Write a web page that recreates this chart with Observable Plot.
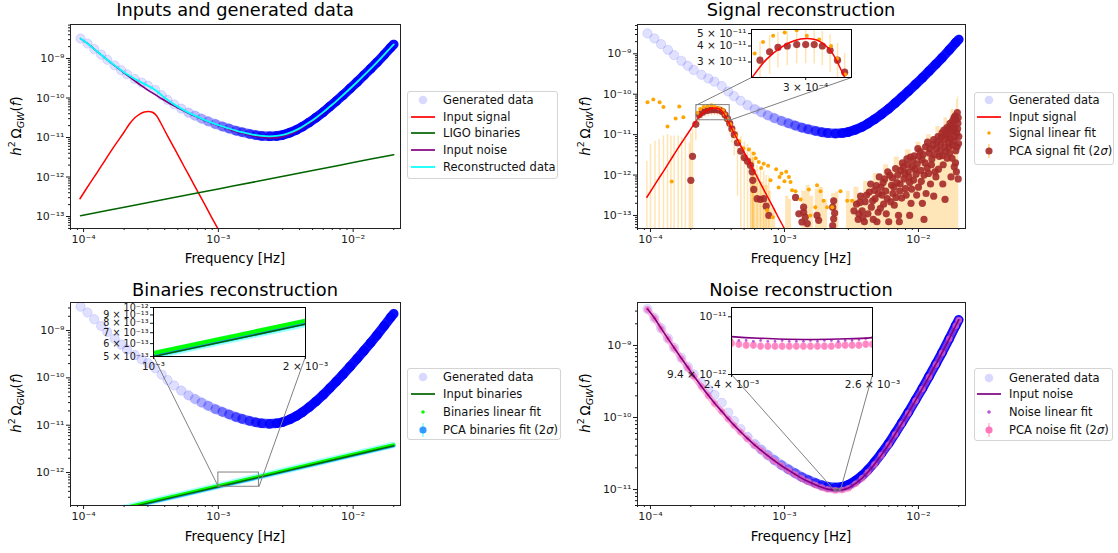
<!DOCTYPE html>
<html>
<head>
<meta charset="utf-8">
<script src="https://cdn.jsdelivr.net/npm/d3@7"></script>
<script src="https://cdn.jsdelivr.net/npm/@observablehq/plot@0.6"></script>
<style>
html,body{margin:0;padding:0;background:#fff;}
#root{position:relative;width:1118px;height:553px;overflow:hidden;font-family:"DejaVu Sans",sans-serif;color:#000;}
.t{position:absolute;white-space:nowrap;line-height:normal;}
.title{font-size:17.8px;transform:translateX(-50%);}
.xlab{font-size:13.3px;transform:translateX(-50%);}
.ylab{font-size:13.3px;transform:translate(-50%,-50%) rotate(-90deg);}
.ylab sup,.ylab sub{font-size:0.72em;line-height:0;}
.legend{position:absolute;border:1px solid #d4d4d4;border-radius:3px;background:rgba(255,255,255,0.8);box-sizing:border-box;}
.row{position:absolute;display:flex;align-items:center;height:16px;font-size:11.5px;white-space:nowrap;color:#111;}
.row svg{margin-right:8px;flex:none;}
</style>
</head>
<body>
<div id="root"></div>
<script>
// ---------------- data ----------------
const freq = [9.5e-5,1.07e-4,1.2e-4,1.35e-4,1.5e-4,1.7e-4,1.9e-4,2.1e-4,2.4e-4,2.7e-4,3.0e-4,3.4e-4,3.8e-4,4.2e-4,4.7e-4,5.3e-4,6.0e-4,6.7e-4,7.5e-4,8.4e-4,9.5e-4,1.07e-3,1.2e-3,1.35e-3,1.5e-3,1.7e-3,1.9e-3,2.1e-3,2.4e-3,2.7e-3,3.0e-3,3.4e-3,3.8e-3,4.2e-3,4.7e-3,5.3e-3,6.0e-3,6.7e-3,7.5e-3,8.4e-3,9.5e-3,1.07e-2,1.2e-2,1.35e-2,1.5e-2,1.7e-2,1.9e-2,2.0e-2];
const generated = [3.2e-9,2.40e-9,1.73e-9,1.25e-9,9.3e-10,6.70e-10,5.05e-10,3.97e-10,3.03e-10,2.45e-10,2.05e-10,1.60e-10,1.17e-10,8.96e-11,6.90e-11,5.39e-11,4.27e-11,3.58e-11,3.01e-11,2.57e-11,2.19e-11,1.91e-11,1.69e-11,1.49e-11,1.36e-11,1.235e-11,1.15e-11,1.094e-11,1.069e-11,1.094e-11,1.16e-11,1.33e-11,1.56e-11,1.88e-11,2.39e-11,3.18e-11,4.38e-11,6.03e-11,8.37e-11,1.18e-10,1.74e-10,2.54e-10,3.72e-10,5.53e-10,7.94e-10,1.25e-9,1.90e-9,2.27e-9];
const noiseFreq = [9.5e-5,1.07e-4,1.2e-4,1.35e-4,1.5e-4,1.7e-4,1.9e-4,2.1e-4,2.4e-4,2.7e-4,3.0e-4,3.4e-4,3.8e-4,4.2e-4,4.7e-4,5.3e-4,6.0e-4,6.7e-4,7.5e-4,8.4e-4,9.5e-4,1.07e-3,1.2e-3,1.35e-3,1.5e-3,1.7e-3,1.9e-3,2.1e-3,2.4e-3,2.45e-3,2.5e-3,2.55e-3,2.6e-3,2.7e-3,3.0e-3,3.4e-3,3.8e-3,4.2e-3,4.7e-3,5.3e-3,6.0e-3,6.7e-3,7.5e-3,8.4e-3,9.5e-3,1.07e-2,1.2e-2,1.35e-2,1.5e-2,1.7e-2,1.9e-2,2.0e-2];
const inputNoise = [3.2e-9,2.40e-9,1.73e-9,1.245e-9,9.28e-10,6.64e-10,4.94e-10,3.79e-10,2.71e-10,2.03e-10,1.59e-10,1.22e-10,9.6e-11,7.83e-11,6.33e-11,5.10e-11,4.13e-11,3.50e-11,2.96e-11,2.52e-11,2.14e-11,1.86e-11,1.63e-11,1.43e-11,1.294e-11,1.163e-11,1.072e-11,1.012e-11,9.79e-12,9.77e-12,9.76e-12,9.765e-12,9.78e-12,9.90e-12,1.05e-11,1.217e-11,1.441e-11,1.751e-11,2.25e-11,3.03e-11,4.22e-11,5.86e-11,8.19e-11,1.159e-10,1.72e-10,2.52e-10,3.69e-10,5.50e-10,7.91e-10,1.248e-9,1.893e-9,2.27e-9];
const noisePca = [3.17e-9,2.38e-9,1.71e-9,1.23e-9,9.2e-10,6.57e-10,4.89e-10,3.75e-10,2.68e-10,2.01e-10,1.57e-10,1.21e-10,9.5e-11,7.75e-11,6.27e-11,5.05e-11,4.09e-11,3.47e-11,2.93e-11,2.49e-11,2.12e-11,1.84e-11,1.61e-11,1.42e-11,1.28e-11,1.152e-11,1.062e-11,1.003e-11,9.72e-12,9.82e-12,1.04e-11,1.205e-11,1.427e-11,1.734e-11,2.23e-11,3.0e-11,4.18e-11,5.8e-11,8.1e-11,1.147e-10,1.70e-10,2.49e-10,3.65e-10,5.45e-10,7.83e-10,1.235e-9,1.874e-9,2.25e-9];
const noiseLinear = [3.22e-9,2.41e-9,1.74e-9,1.25e-9,9.3e-10,6.66e-10,4.96e-10,3.8e-10,2.72e-10,2.04e-10,1.6e-10,1.225e-10,9.65e-11,7.85e-11,6.35e-11,5.12e-11,4.14e-11,3.51e-11,2.97e-11,2.53e-11,2.15e-11,1.87e-11,1.64e-11,1.44e-11,1.30e-11,1.168e-11,1.077e-11,1.017e-11,9.84e-12,9.95e-12,1.056e-11,1.222e-11,1.446e-11,1.756e-11,2.26e-11,3.04e-11,4.23e-11,5.88e-11,8.22e-11,1.162e-10,1.725e-10,2.53e-10,3.70e-10,5.52e-10,7.93e-10,1.25e-9,1.90e-9,2.28e-9];
const zoomNoiseFreq = [2.40e-3,2.41e-3,2.42e-3,2.43e-3,2.44e-3,2.45e-3,2.46e-3,2.47e-3,2.48e-3,2.49e-3,2.50e-3,2.51e-3,2.52e-3,2.53e-3,2.54e-3,2.55e-3,2.56e-3,2.57e-3,2.58e-3,2.59e-3,2.60e-3];
const zoomNoisePca = [9.72e-12,9.71e-12,9.70e-12,9.70e-12,9.69e-12,9.69e-12,9.69e-12,9.69e-12,9.69e-12,9.69e-12,9.69e-12,9.69e-12,9.69e-12,9.69e-12,9.69e-12,9.70e-12,9.70e-12,9.70e-12,9.70e-12,9.71e-12,9.71e-12];
const zoomNoiseLinear = [9.76e-12,9.75e-12,9.75e-12,9.74e-12,9.75e-12,9.74e-12,9.74e-12,9.75e-12,9.74e-12,9.74e-12,9.74e-12,9.75e-12,9.74e-12,9.75e-12,9.75e-12,9.74e-12,9.75e-12,9.75e-12,9.76e-12,9.77e-12,9.78e-12];
const zoomNoiseErr = 4.5e-14;
const signalFreq = [9.4e-5,1.12e-4,1.26e-4,1.41e-4,1.58e-4,1.78e-4,2.0e-4,2.19e-4,2.40e-4,2.63e-4,2.82e-4,3.02e-4,3.24e-4,3.47e-4,3.72e-4,3.98e-4,4.47e-4,5.01e-4,5.62e-4,6.31e-4,7.08e-4,7.94e-4,8.91e-4,1.0e-3,1.12e-3];
const inputSignal = [2.82e-13,7.08e-13,1.29e-12,2.34e-12,4.27e-12,7.76e-12,1.38e-11,2.19e-11,3.16e-11,3.98e-11,4.42e-11,4.57e-11,4.37e-11,3.63e-11,2.40e-11,1.55e-11,7.41e-12,3.63e-12,1.74e-12,8.51e-13,4.07e-13,2.00e-13,9.55e-14,4.68e-14,2.24e-14];
const sigLinFreq = [9.5e-5,1.05e-4,1.17e-4,1.25e-4,1.34e-4,1.44e-4,1.54e-4,1.64e-4,1.76e-4,2.24e-4,2.35e-4,2.49e-4,2.66e-4,2.85e-4,3.02e-4,3.24e-4,3.47e-4,3.59e-4,3.76e-4,3.94e-4,4.11e-4,4.33e-4,4.59e-4,4.94e-4,5.42e-4,5.9e-4,6.1e-4,6.43e-4,6.7e-4,7.0e-4,7.43e-4,7.55e-4,7.87e-4,8.18e-4,8.67e-4,9.05e-4,9.18e-4,9.5e-4,1.0e-3,1.03e-3,1.08e-3,1.11e-3,1.14e-3,1.21e-3,1.32e-3,1.52e-3,1.56e-3,1.70e-3,1.75e-3,1.86e-3,1.96e-3,2.08e-3,2.27e-3,2.62e-3,2.94e-3,3.2e-3];
const sigLinear = [6.3e-11,7.4e-11,6.3e-11,4.8e-11,1.6e-11,6.9e-13,2.5e-11,5.0e-11,2.7e-11,3.5e-11,4.3e-11,4.8e-11,5.1e-11,5.3e-11,4.8e-11,4.5e-11,4.0e-11,3.2e-11,2.4e-11,1.8e-11,1.3e-11,9.3e-12,6.9e-12,4.6e-12,4.3e-12,3.4e-12,2.6e-12,2.1e-12,1.5e-12,1.9e-12,1.35e-13,1.7e-12,7.4e-13,9.1e-14,1.4e-12,4.9e-13,8.9e-13,1.1e-12,7.0e-13,1.2e-12,8.9e-13,6.7e-13,4.2e-13,4.0e-13,2.5e-13,4.4e-13,1.0e-13,1.6e-13,5.6e-13,4.0e-13,2.3e-13,1.6e-13,1.6e-13,4.0e-13,2.3e-13,2.3e-13];
const sigPeakFreq = [2.00e-4,2.06e-4,2.18e-4,2.31e-4,2.44e-4,2.56e-4,2.70e-4,2.85e-4,3.00e-4,3.15e-4,3.30e-4,3.45e-4,3.60e-4,3.75e-4,3.90e-4,4.05e-4,4.22e-4,4.46e-4,4.72e-4,5.01e-4,5.30e-4,5.57e-4,5.74e-4,5.80e-4,5.90e-4,6.25e-4,6.62e-4,7.00e-4,7.30e-4,7.64e-4];
const sigPeak = [7.4e-13,2.9e-12,1.8e-11,3.1e-11,3.6e-11,3.9e-11,4.0e-11,4.1e-11,4.1e-11,4.1e-11,4.0e-11,3.7e-11,3.1e-11,2.5e-11,1.9e-11,1.4e-11,1.0e-11,6.3e-12,3.9e-12,2.7e-12,2.2e-12,1.74e-12,1.2e-12,7.4e-13,4.4e-13,2.6e-13,2.5e-13,2.6e-13,1.7e-13,1.0e-13];
const sigPeakErr = [1.0e-11,1.0e-11,1.1e-11,1.2e-11,1.2e-11,1.2e-11,1.2e-11,1.2e-11,1.2e-11,1.2e-11,1.2e-11,1.2e-11,1.1e-11,1.0e-11,9e-12,8e-12,7e-12,6e-12,5e-12,4e-12,3.5e-12,3e-12,2.5e-12,2e-12,1.8e-12,1.5e-12,1.2e-12,1.0e-12,8e-13,8e-13];
const sigCloudFreq = [1.21e-3,1.28e-3,1.35e-3,1.39e-3,1.39e-3,1.43e-3,1.48e-3,1.75e-3,1.80e-3,2.29e-3,2.29e-3,2.33e-3,2.33e-3,2.37e-3,3.45e-3,3.55e-3,3.59e-3,3.7e-3,3.8e-3,3.95e-3,4.0e-3,4.3e-3,4.45e-3,4.6e-3,4.75e-3,4.85e-3,4.9e-3,5.0e-3,5.1e-3,5.25e-3,5.35e-3,5.5e-3,5.6e-3,5.75e-3,5.85e-3,6.0e-3,6.1e-3,6.3e-3,6.45e-3,6.6e-3,6.75e-3,6.9e-3,7.1e-3,7.2e-3,7.25e-3,7.4e-3,7.6e-3,7.8e-3,8.0e-3,8.2e-3,8.4e-3,8.6e-3,8.6e-3,8.8e-3,9.0e-3,9.3e-3,9.6e-3,9.8e-3,1.0e-2,1.03e-2,1.06e-2,1.07e-2,1.1e-2,1.1e-2,1.13e-2,1.16e-2,1.2e-2,1.23e-2,1.26e-2,1.3e-2,1.3e-2,1.33e-2,1.36e-2,1.4e-2,1.43e-2,1.46e-2,1.5e-2,1.52e-2,1.53e-2,1.56e-2,1.58e-2,1.6e-2,1.63e-2,1.66e-2,1.7e-2,1.72e-2,1.75e-2,1.75e-2,1.78e-2,1.8e-2,1.83e-2,1.85e-2,1.86e-2,1.88e-2,1.9e-2,1.93e-2,1.95e-2,1.97e-2,1.98e-2,1.99e-2,
  3.3e-3,3.65e-3,3.85e-3,4.1e-3,4.2e-3,4.4e-3,4.55e-3,4.7e-3,5.05e-3,5.2e-3,5.45e-3,5.7e-3,5.9e-3,6.2e-3,6.4e-3,6.55e-3,6.8e-3,7.0e-3,7.3e-3,7.5e-3,7.7e-3,7.9e-3,8.1e-3,8.3e-3,8.5e-3,8.7e-3,8.9e-3,9.1e-3,9.2e-3,9.4e-3,9.7e-3,9.9e-3,1.01e-2,1.04e-2,1.05e-2,1.08e-2,1.12e-2,1.14e-2,1.17e-2,1.19e-2,1.22e-2,1.25e-2,1.28e-2,1.32e-2,1.35e-2,1.38e-2,1.41e-2,1.45e-2,1.48e-2,1.51e-2,1.55e-2,1.57e-2,1.61e-2,1.64e-2,1.67e-2,1.69e-2,1.71e-2,1.74e-2,1.77e-2,1.79e-2,1.82e-2,1.84e-2,1.87e-2,1.89e-2,1.91e-2,1.94e-2,1.96e-2,1.98e-2,2.0e-2,1.92e-2];
const sigCloud = [2.8e-13,1.1e-13,6.9e-14,1.6e-13,1.2e-13,9.1e-14,6.3e-14,1.0e-13,7.6e-14,1.6e-13,5.6e-14,2.3e-13,8.3e-14,1.15e-13,1.9e-13,8.0e-14,1.1e-13,3.0e-13,1.3e-13,7e-14,2.2e-13,3.8e-13,1.6e-13,8e-14,2.6e-13,5.5e-13,7e-14,1.2e-13,9e-13,5.0e-13,3.2e-13,1.9e-13,8.0e-13,1.1e-13,2.6e-13,7e-14,1.0e-12,5.6e-13,3.5e-13,1.8e-13,1.45e-12,6.5e-13,1.0e-13,7e-14,4.0e-13,1.3e-12,2.0e-12,8.0e-13,4.6e-13,2.5e-12,1.2e-12,6.5e-13,1.0e-13,2.0e-13,1.6e-12,3.0e-12,1.05e-12,1.9e-12,5.0e-13,3.8e-12,2.4e-12,2.0e-13,1.0e-12,8e-14,5.0e-12,1.5e-12,3.5e-12,6.0e-13,2.5e-12,7.5e-12,3e-13,1.2e-12,4.5e-12,9.0e-12,2.9e-12,5.8e-12,1.1e-11,6e-13,1.8e-12,7.5e-12,2.5e-13,3.8e-12,1.5e-11,9.5e-12,5.0e-12,1.9e-11,1.2e-11,9e-13,2.6e-12,2.2e-11,7.0e-12,1.6e-12,1.5e-11,2.9e-11,4.0e-12,1.1e-11,3.5e-11,1.9e-11,8e-13,6e-12,
  1.3e-13,2.1e-13,9e-14,3.2e-13,1.1e-13,6e-13,2.3e-13,4.2e-13,3.5e-13,1.5e-13,6.5e-13,4.0e-13,1.2e-12,2.2e-13,8.5e-13,5.0e-13,2.8e-13,1.0e-12,6.0e-13,2.7e-13,1.6e-12,1.1e-12,3.2e-13,1.8e-12,9e-13,2.8e-12,4.5e-13,2.3e-12,7.5e-13,1.4e-12,3.2e-13,4.5e-12,2.9e-12,1.3e-12,7e-13,3.2e-12,2.0e-12,3.5e-13,6.5e-12,1.1e-12,4.5e-12,1.8e-12,5.5e-12,3.2e-12,9e-13,6.5e-12,1.4e-12,4.0e-12,8.5e-12,3.0e-12,1.3e-11,5.0e-12,1.0e-11,2.6e-12,6.5e-12,1.4e-11,3.5e-12,8.0e-12,1.7e-11,5.5e-12,1.2e-11,2.6e-11,9.0e-12,2.0e-12,2.3e-11,5.0e-12,1.4e-11,2.6e-11,9e-12,1.2e-12];
const lowBarFreq = [9.4e-5,1.0e-4,1.08e-4,1.16e-4,1.25e-4,1.34e-4,1.42e-4,1.50e-4,1.61e-4,1.71e-4,1.82e-4,1.95e-4];
const lowBarTop = [2.2e-12,5.8e-12,6.9e-12,7.6e-12,9.3e-12,1.0e-11,9.3e-12,9.3e-12,9.3e-12,8.5e-12,7.6e-12,6.3e-12];
const bandFreq = [5.4e-4,5.6e-4,6.0e-4,6.5e-4,7.0e-4,7.6e-4,8.0e-4,8.6e-4,9.5e-4,1.02e-3,1.08e-3,1.13e-3,1.3e-3,1.35e-3,1.45e-3,1.55e-3,1.65e-3,1.7e-3,1.8e-3,1.95e-3,2.1e-3,2.25e-3,2.4e-3,2.55e-3,2.8e-3,2.9e-3,3.1e-3,3.3e-3,3.6e-3,3.9e-3,4.2e-3,4.6e-3,5.0e-3,5.5e-3,6.0e-3,6.6e-3,7.2e-3,8.0e-3,8.8e-3,9.6e-3,1.05e-2,1.15e-2,1.25e-2,1.35e-2,1.45e-2,1.55e-2,1.65e-2,1.75e-2,1.85e-2,1.92e-2,1.97e-2,2.0e-2];
const bandTop = [3e-14,2.5e-12,1.0e-12,6.5e-13,5.5e-13,4.0e-13,1.5e-13,5e-14,3e-14,3e-13,2.5e-13,3e-14,3e-14,4e-13,5.5e-13,3e-13,3e-14,4.5e-13,5e-13,2.5e-13,3e-14,3.5e-13,3.8e-13,3e-14,3e-14,4e-13,2.5e-13,5e-13,3.5e-13,7e-13,5e-13,1.1e-12,8e-13,1.8e-12,1.3e-12,2.8e-12,2.0e-12,4.2e-12,3.0e-12,6.5e-12,5.0e-12,1.0e-11,7.5e-12,1.6e-11,1.3e-11,2.6e-11,2.0e-11,4.2e-11,3.2e-11,7.5e-11,9.0e-11,6e-11];
const binFreq = [9.5e-5,2e-4,5e-4,1e-3,2e-3,5e-3,1e-2,2e-2];
const inputBinaries = [1.05e-13,1.72e-13,3.17e-13,5.0e-13,7.9e-13,1.46e-12,2.32e-12,3.68e-12];
const binLinear = [1.10e-13,1.81e-13,3.33e-13,5.25e-13,8.3e-13,1.53e-12,2.44e-12,3.86e-12];
const binPca = [1.06e-13,1.74e-13,3.2e-13,5.05e-13,7.98e-13,1.47e-12,2.34e-12,3.72e-12];
const binPcaErr = [4.2e-15,6.9e-15,1.3e-14,2.0e-14,3.2e-14,5.9e-14,9.4e-14,1.5e-13];

// axes
const xDomain = [8.0e-5, 2.245e-2];
const xTicks = [1e-4, 1e-3, 1e-2];
const yDomain1 = [4.97e-14, 7.26e-9], yDomain2 = [4.76e-14, 5.31e-9], yDomain3 = [2.01e-13, 3.91e-9], yDomain4 = [6.0e-12, 3.95e-9];
const yTicks12 = [1e-13, 1e-12, 1e-11, 1e-10, 1e-9], yTicks3 = [1e-12, 1e-11, 1e-10, 1e-9], yTicks4 = [1e-11, 1e-10, 1e-9];
const zoomSigX = [2.2e-4, 3.9e-4], zoomSigY = [2.27e-11, 5.38e-11], zoomSigXTicks = [3e-4], zoomSigYTicks = [3e-11, 4e-11, 5e-11];
const zoomBinX = [1e-3, 2e-3], zoomBinY = [5e-13, 1e-12], zoomBinXTicks = [1e-3, 2e-3], zoomBinYTicks = [5e-13, 6e-13, 7e-13, 8e-13, 9e-13, 1e-12];
const zoomNoiseX = [2.4e-3, 2.6e-3], zoomNoiseY = [9.4e-12, 1.01e-11], zoomNoiseXTicks = [2.4e-3, 2.6e-3], zoomNoiseYTicks = [9.4e-12, 1e-11];

const titles = ["Inputs and generated data", "Signal reconstruction", "Binaries reconstruction", "Noise reconstruction"];
const xLabel = "Frequency [Hz]";
const yLabelHtml = '<i>h</i><sup>2</sup>&thinsp;Ω<sub><i>GW</i></sub>(<i>f</i>)';

// ---------------- helpers ----------------
const root = document.getElementById("root");
const FONT = '"DejaVu Sans", sans-serif';
const lg = Math.log10;
const SUPS = {"-":"⁻","0":"⁰","1":"¹","2":"²","3":"³","4":"⁴","5":"⁵","6":"⁶","7":"⁷","8":"⁸","9":"⁹"};
const sup = n => [...String(n)].map(c => SUPS[c]).join("");
function sci(d) {
  const e = Math.floor(lg(d) + 1e-9);
  const m = Math.round(d / 10 ** e * 10) / 10;
  return Math.abs(m - 1) < 1e-9 ? "10" + sup(e) : `${m} × 10${sup(e)}`;
}
function minorTicks([a, b]) {
  const t = [];
  for (let k = Math.floor(lg(a)); k <= Math.ceil(lg(b)); k++)
    for (let m = 2; m <= 9; m++) { const v = m * 10 ** k; if (v >= a && v <= b) t.push(v); }
  return t;
}
const recs = (fs, vs, es) => fs.map((f, i) => ({f, v: vs[i], e: es ? (Array.isArray(es) ? es[i] : es) : 0}));
function invX(px, fr, dom) { return 10 ** (lg(dom[0]) + (px - fr[0]) / (fr[2] - fr[0]) * (lg(dom[1]) - lg(dom[0]))); }
function invY(py, fr, dom) { return 10 ** (lg(dom[0]) + (fr[3] - py) / (fr[3] - fr[1]) * (lg(dom[1]) - lg(dom[0]))); }

function panel({frame, xd, yd, xt, yt, marks, inset = false, margins = [4, 4, 26, 60], yFont}) {
  const [x0, y0, x1, y1] = frame; const [mt, mr, mb, ml] = margins;
  const w = x1 - x0 + ml + mr, h = y1 - y0 + mt + mb;
  const fs = inset ? 10.5 : 11;
  const tick = inset ? 3 : 4;
  const axes = [];
  if (!inset) {
    axes.push(Plot.axisX(minorTicks(xd), {anchor: "bottom", tickSize: 2, tickFormat: () => "", label: null}));
    axes.push(Plot.axisY(minorTicks(yd), {anchor: "left", tickSize: 2, tickFormat: () => "", label: null}));
  }
  axes.push(Plot.axisX(xt, {anchor: "bottom", tickSize: tick, tickFormat: () => "", label: null}));
  axes.push(Plot.axisY(yt, {anchor: "left", tickSize: tick, tickFormat: () => "", label: null}));
  axes.push(Plot.text(xt, {x: d => d, y: () => yd[0], text: d => sci(d), lineAnchor: "top", dy: tick + 3, fontSize: fs, fill: "#1a1a1a"}));
  axes.push(Plot.text(yt, {x: () => xd[0], y: d => d, text: d => sci(d), textAnchor: "end", dx: -(tick + 2), fontSize: yFont || fs, fill: "#1a1a1a"}));
  const svg = Plot.plot({
    width: w, height: h, marginTop: mt, marginRight: mr, marginBottom: mb, marginLeft: ml,
    x: {type: "log", domain: xd}, y: {type: "log", domain: yd},
    style: {fontFamily: FONT, fontSize: fs + "px", background: "transparent", color: "#1a1a1a", overflow: "visible"},
    marks: [inset ? Plot.frame({fill: "white"}) : null, ...marks, ...axes, Plot.frame({stroke: inset ? "#000" : "#222", strokeWidth: 1})]
  });
  Object.assign(svg.style, {position: "absolute", left: (x0 - ml) + "px", top: (y0 - mt) + "px"});
  root.appendChild(svg);
}
function text(cls, html, left, top) {
  const d = document.createElement("div"); d.className = "t " + cls; d.innerHTML = html;
  Object.assign(d.style, {left: left + "px", top: top + "px"}); root.appendChild(d);
}
function handle(it) {
  let s = '<svg width="24" height="16">';
  if (it.kind === "circle") s += '<circle cx="12" cy="8" r="4.3" fill="#0000ff" fill-opacity="0.15"/>';
  if (it.kind === "line") s += `<line x1="0" y1="8" x2="24" y2="8" stroke="${it.color}" stroke-width="1.7"/>`;
  if (it.kind === "dot") s += `<circle cx="12" cy="8" r="${it.r || 1.8}" fill="${it.color}"/>`;
  if (it.kind === "pca") s += `<line x1="12" y1="1" x2="12" y2="15" stroke="${it.err}" stroke-opacity="0.5" stroke-width="1.5"/><circle cx="12" cy="8" r="3.6" fill="${it.color}" fill-opacity="0.9"/>`;
  return s + "</svg>";
}
function legend([L, T, W, H], hx, ys, items) {
  const box = document.createElement("div"); box.className = "legend";
  Object.assign(box.style, {left: L + "px", top: T + "px", width: W + "px", height: H + "px"}); root.appendChild(box);
  items.forEach((it, i) => {
    const r = document.createElement("div"); r.className = "row";
    Object.assign(r.style, {left: hx + "px", top: (ys[i] - 8) + "px"});
    r.innerHTML = handle(it) + `<span>${it.label}</span>`; root.appendChild(r);
  });
}

// ---------------- records ----------------
const gen = recs(freq, generated);
const noise = recs(noiseFreq, inputNoise);
const sig = recs(signalFreq, inputSignal);
const bin = recs(binFreq, inputBinaries);
const binLin = recs(binFreq, binLinear);
const binP = recs(binFreq, binPca, binPcaErr);
const sigLin = recs(sigLinFreq, sigLinear);
const sigPk = recs(sigPeakFreq, sigPeak, sigPeakErr);
const sigCl = recs(sigCloudFreq, sigCloud);
const lowBars = recs(lowBarFreq, lowBarTop);
const band = recs(bandFreq, bandTop);
const nPca = recs(freq, noisePca);
const nLin = recs(freq, noiseLinear);
const zPca = recs(zoomNoiseFreq, zoomNoisePca, zoomNoiseErr);
const zLin = recs(zoomNoiseFreq, zoomNoiseLinear);

const BLUE = "#0000ff", RED = "#ff0000", DKGREEN = "#006400", PURPLE = "#800080", CYAN = "#00ffff",
      ORANGE = "#ffa500", BROWN = "#a52a2a", LIME = "#00ff00", DODGER = "#1e90ff", ORCHID = "#ba55d3", PINK = "#ff69b4";

function bandOpacity(f) {
  const t = Math.max(0, Math.min(1, (lg(f) - lg(4.5e-4)) / (lg(3.0e-3) - lg(4.5e-4))));
  return 0.95 * t ** 1.4;
}
const genMarks = () => [
  Plot.link(d3.pairs(gen), {x1: d => d[0].f, y1: d => d[0].v, x2: d => d[1].f, y2: d => d[1].v,
    stroke: BLUE, strokeOpacity: d => bandOpacity(d[0].f), strokeWidth: 9.5, strokeLinecap: "round", clip: true}),
  Plot.dot(gen, {x: "f", y: "v", r: 4.7, fill: BLUE, fillOpacity: 0.12, stroke: BLUE, strokeOpacity: 0.1, strokeWidth: 1, clip: true})
];
const line = (data, stroke, w = 1.5, extra = {}) => Plot.line(data, {x: "f", y: "v", stroke, strokeWidth: w, curve: "catmull-rom", clip: true, ...extra});

// ---------------- frames (page px) ----------------
const F1 = [70, 24, 400, 228], F2 = [637, 24, 965, 228], F3 = [70, 302, 400, 505], F4 = [637, 302, 965, 505];
const Z2 = [751, 29, 851, 77], Z3 = [153, 307, 305, 356], Z4 = [731, 307, 872, 374];

// ---------- panel 1 ----------
panel({frame: F1, xd: xDomain, yd: yDomain1, xt: xTicks, yt: yTicks12, marks: [
  ...genMarks(),
  line(sig, RED), line(bin, DKGREEN), line(noise, PURPLE, 1.6), line(gen, CYAN, 1.8)
]});

// ---------- panel 2 ----------
const conn2 = [
  {x1: zoomSigX[0], y1: zoomSigY[1], x2: invX(Z2[0], F2, xDomain), y2: invY(Z2[3], F2, yDomain2)},
  {x1: zoomSigX[1], y1: zoomSigY[0], x2: invX(Z2[2], F2, xDomain), y2: invY(Z2[3], F2, yDomain2)}
];
const sigErrRules = (data) => Plot.ruleX(data, {x: "f", y1: d => Math.max(d.v - d.e, 1e-15), y2: d => d.v + d.e, stroke: ORANGE, strokeOpacity: 0.3, strokeWidth: 1.5, clip: true});
panel({frame: F2, xd: xDomain, yd: yDomain2, xt: xTicks, yt: yTicks12, marks: [
  Plot.areaY(band, {x: "f", y1: () => 1e-15, y2: "v", curve: "step-after", fill: ORANGE, fillOpacity: 0.28, clip: true}),
  Plot.ruleX(lowBars, {x: "f", y1: () => 1e-15, y2: "v", stroke: ORANGE, strokeOpacity: 0.3, strokeWidth: 1.5, clip: true}),
  sigErrRules(sigPk),
  ...genMarks(),
  Plot.dot(sigPk, {x: "f", y: "v", r: 3.6, fill: BROWN, fillOpacity: 0.9, clip: true}),
  Plot.dot(sigCl, {x: "f", y: "v", r: 3.6, fill: BROWN, fillOpacity: 0.9, clip: true}),
  Plot.dot(sigLin, {x: "f", y: "v", r: 2, fill: ORANGE, clip: true}),
  line(sig, RED),
  Plot.rect([0], {x1: () => zoomSigX[0], x2: () => zoomSigX[1], y1: () => zoomSigY[0], y2: () => zoomSigY[1], fill: "none", stroke: "#808080", strokeWidth: 1}),
  Plot.link(conn2, {x1: "x1", y1: "y1", x2: "x2", y2: "y2", stroke: "#808080", strokeWidth: 1})
]});
panel({frame: Z2, xd: zoomSigX, yd: zoomSigY, xt: zoomSigXTicks, yt: zoomSigYTicks, inset: true, margins: [2, 2, 16, 52], marks: [
  sigErrRules(sigPk),
  Plot.dot(sigPk, {x: "f", y: "v", r: 3.6, fill: BROWN, fillOpacity: 0.9, clip: true}),
  Plot.dot(sigLin, {x: "f", y: "v", r: 2, fill: ORANGE, clip: true}),
  line(sig, RED)
]});

// ---------- panel 3 ----------
const conn3 = [
  {x1: zoomBinX[0], y1: zoomBinY[0], x2: invX(Z3[0], F3, xDomain), y2: invY(Z3[3], F3, yDomain3)},
  {x1: zoomBinX[1], y1: zoomBinY[0], x2: invX(Z3[2], F3, xDomain), y2: invY(Z3[3], F3, yDomain3)}
];
const binMarks = (w) => [
  Plot.areaY(binP, {x: "f", y1: d => d.v - d.e, y2: d => d.v + d.e, fill: CYAN, fillOpacity: 0.45, stroke: CYAN, strokeOpacity: 0.35, strokeWidth: w.err, clip: true}),
  line(binP, DODGER, w.pca, {curve: "linear"}),
  line(binLin, LIME, w.lin, {curve: "linear"}),
  line(bin, DKGREEN, 1.5, {curve: "linear"})
];
panel({frame: F3, xd: xDomain, yd: yDomain3, xt: xTicks, yt: yTicks3, marks: [
  ...genMarks(),
  ...binMarks({err: 5, pca: 3.5, lin: 3}),
  Plot.rect([0], {x1: () => zoomBinX[0], x2: () => zoomBinX[1], y1: () => zoomBinY[0], y2: () => zoomBinY[1], fill: "none", stroke: "#808080", strokeWidth: 1}),
  Plot.link(conn3, {x1: "x1", y1: "y1", x2: "x2", y2: "y2", stroke: "#808080", strokeWidth: 1})
]});
panel({frame: Z3, xd: zoomBinX, yd: zoomBinY, xt: zoomBinXTicks, yt: zoomBinYTicks, inset: true, margins: [2, 2, 18, 52], yFont: 9.6, marks: [
  ...binMarks({err: 3, pca: 3, lin: 4})
]});

// ---------- panel 4 ----------
const conn4 = [
  {x1: zoomNoiseX[0], y1: zoomNoiseY[0], x2: invX(Z4[0], F4, xDomain), y2: invY(Z4[3], F4, yDomain4)},
  {x1: zoomNoiseX[1], y1: zoomNoiseY[0], x2: invX(Z4[2], F4, xDomain), y2: invY(Z4[3], F4, yDomain4)}
];
panel({frame: F4, xd: xDomain, yd: yDomain4, xt: xTicks, yt: yTicks4, marks: [
  ...genMarks(),
  Plot.line(nPca, {x: "f", y: "v", stroke: PINK, strokeOpacity: 0.45, strokeWidth: 6, curve: "catmull-rom", clip: true}),
  Plot.dot(nPca, {x: "f", y: "v", r: 3.3, fill: PINK, fillOpacity: 0.55, clip: true}),
  Plot.dot(nLin, {x: "f", y: "v", r: 1.3, fill: ORCHID, clip: true}),
  line(noise, PURPLE, 1.6),
  Plot.rect([0], {x1: () => zoomNoiseX[0], x2: () => zoomNoiseX[1], y1: () => zoomNoiseY[0], y2: () => zoomNoiseY[1], fill: "none", stroke: "#808080", strokeWidth: 1}),
  Plot.link(conn4, {x1: "x1", y1: "y1", x2: "x2", y2: "y2", stroke: "#808080", strokeWidth: 1})
]});
panel({frame: Z4, xd: zoomNoiseX, yd: zoomNoiseY, xt: zoomNoiseXTicks, yt: zoomNoiseYTicks, inset: true, margins: [2, 2, 18, 52], marks: [
  Plot.ruleX(zPca, {x: "f", y1: d => d.v - d.e, y2: d => d.v + d.e, stroke: PINK, strokeOpacity: 0.35, strokeWidth: 2.5, clip: true}),
  Plot.dot(zPca, {x: "f", y: "v", r: 3.4, fill: PINK, fillOpacity: 0.75, clip: true}),
  Plot.dot(zLin, {x: "f", y: "v", r: 1.3, fill: ORCHID, clip: true}),
  line(noise, PURPLE, 1.6)
]});

// ---------------- texts ----------------
text("title", titles[0], 235, -1);
text("title", titles[1], 801, -1);
text("title", titles[2], 235, 279);
text("title", titles[3], 801, 279);
text("xlab", xLabel, 235, 251);
text("xlab", xLabel, 801, 251);
text("xlab", xLabel, 235, 529);
text("xlab", xLabel, 801, 529);
text("ylab", yLabelHtml, 16, 126);
text("ylab", yLabelHtml, 585, 126);
text("ylab", yLabelHtml, 16, 403);
text("ylab", yLabelHtml, 585, 403);

// ---------------- legends ----------------
const genItem = {kind: "circle", label: "Generated data"};
legend([407, 91, 151, 88], 411, [100, 116.7, 133.3, 150.3, 167.3], [
  genItem,
  {kind: "line", color: RED, label: "Input signal"},
  {kind: "line", color: DKGREEN, label: "LIGO binaries"},
  {kind: "line", color: PURPLE, label: "Input noise"},
  {kind: "line", color: CYAN, label: "Reconstructed data"}
]);
legend([974, 92, 140, 73], 977, [100, 116.7, 133.3, 151], [
  genItem,
  {kind: "line", color: RED, label: "Input signal"},
  {kind: "dot", color: ORANGE, label: "Signal linear fit"},
  {kind: "pca", color: BROWN, err: ORANGE, label: "PCA signal fit (2<i>σ</i>)"}
]);
legend([407, 368, 154, 72], 411, [377.3, 394, 411.7, 429.5], [
  genItem,
  {kind: "line", color: DKGREEN, label: "Input binaries"},
  {kind: "dot", color: LIME, label: "Binaries linear fit"},
  {kind: "pca", color: DODGER, err: CYAN, label: "PCA binaries fit (2<i>σ</i>)"}
]);
legend([974, 368, 139, 73], 977, [377.7, 394.3, 411.7, 430], [
  genItem,
  {kind: "line", color: PURPLE, label: "Input noise"},
  {kind: "dot", color: ORCHID, label: "Noise linear fit"},
  {kind: "pca", color: PINK, err: PINK, label: "PCA noise fit (2<i>σ</i>)"}
]);
</script>
</body>
</html>
